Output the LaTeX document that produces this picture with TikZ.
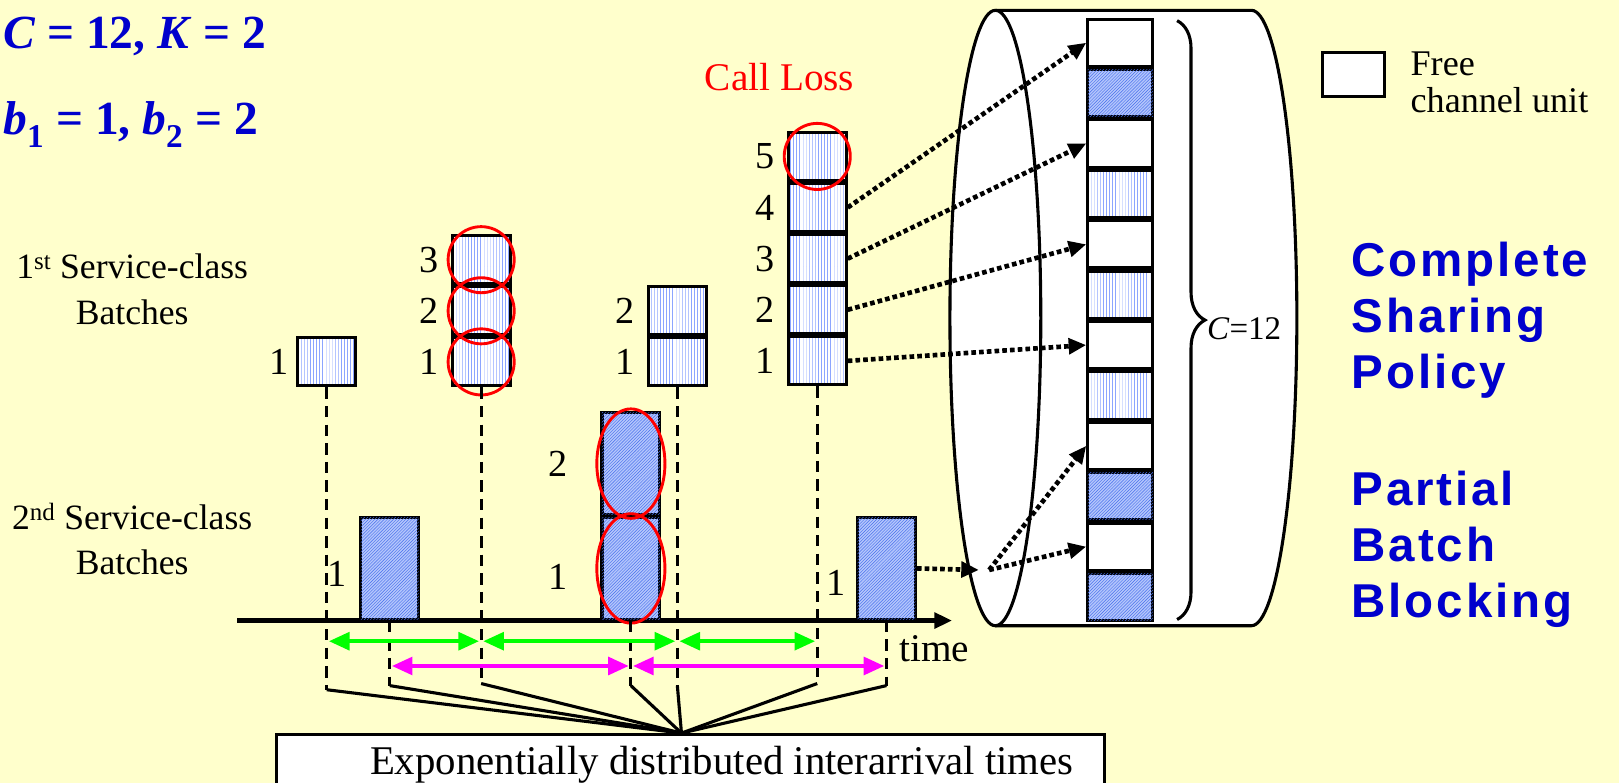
\documentclass[tikz,border=0pt]{standalone}
\usepackage{fontspec}
\setmainfont{Liberation Serif}
\newfontfamily\policyfont[LetterSpace=6]{Liberation Sans}
\usetikzlibrary{arrows.meta,positioning,patterns,decorations.pathreplacing}
\definecolor{slide}{RGB}{255,255,204}
\definecolor{titleblue}{RGB}{0,0,204}
\definecolor{hatchA}{RGB}{140,165,255}
\definecolor{hatchB}{RGB}{70,110,235}
\definecolor{fillB}{RGB}{180,198,252}
\definecolor{gapA}{RGB}{0,255,0}
\definecolor{gapB}{RGB}{255,0,255}
\tikzset{>={Triangle[length=17pt,width=15pt]},
  unit/.style={draw,line width=3,inner sep=0pt},
  cls1/.style={unit,minimum width=56,minimum height=46.5,
    preaction={fill=white},pattern=vertical lines,pattern color=hatchA},
  cls2/.style={unit,minimum width=56,minimum height=98.5,fill=fillB,
    postaction={pattern=north east lines,pattern color=hatchB}},
  freecell/.style={unit,fill=white},
  chan/.style={minimum width=63,minimum height=45.8},
  num/.style={inner sep=0pt,font=\fontsize{37}{40}\selectfont},
  txt/.style={inner sep=0pt,font=\fontsize{36}{44}\selectfont},
  ring/.style={draw=red,line width=2.8},
  arrival/.style={line width=3,dash pattern=on 11pt off 7pt},
  fanline/.style={line width=3},
  gapline/.style={{Triangle[length=20pt,width=17pt]}-{Triangle[length=20pt,width=17pt]},
    line width=4,shorten <=2pt,shorten >=2pt},
  seize/.style={->,line width=4.5,dash pattern=on 4.5pt off 3pt},
  policy/.style={anchor=west,align=left,inner sep=0pt,text=titleblue,
    font=\policyfont\bfseries\fontsize{46}{54.5}\selectfont}}

\begin{document}
\begin{tikzpicture}[x=1pt,y=-1pt]
  \useasboundingbox (0,0) rectangle (1568,758);
  \clip (0,0) rectangle (1568,758);
  \fill[slide] (0,0) rectangle (1568,758);

  % parameters
  \node[anchor=base west,inner sep=0pt,text=titleblue,
    font=\bfseries\fontsize{46}{50}\selectfont] (params) at (3,47)
    {\textit{C} = 12, \textit{K} = 2};
  \node[anchor=base west,inner sep=0pt,text=titleblue,
    font=\bfseries\fontsize{46}{50}\selectfont] (sizes) at (3,130)
    {\textit{b}\textsubscript{1} = 1, \textit{b}\textsubscript{2} = 2};

  % row labels
  \node[txt,align=center,font=\fontsize{34.5}{44}\selectfont] (row1) at (128,280)
    {1\textsuperscript{st} Service-class\\Batches};
  \node[txt,align=center,font=\fontsize{34.5}{44}\selectfont] (row2) at (128,522)
    {2\textsuperscript{nd} Service-class\\Batches};

  % time axis
  \coordinate (t0) at (230,601);
  \coordinate (t1) at (922,601);
  \draw[->,line width=4] (t0) -- (t1);
  \node[txt,font=\fontsize{38}{44}\selectfont] (tlabel) at (905,628) {time};

  % 1st service-class batches
  \node[cls1] (a1) at (316.5,350.5) {};
  \node[cls1] (b1) at (466,350.5) {};
  \node[cls1,above=0pt of b1] (b2) {};
  \node[cls1,above=0pt of b2] (b3) {};
  \node[cls1] (c1) at (656,350.5) {};
  \node[cls1,above=0pt of c1] (c2) {};
  \node[cls1] (d1) at (791.5,349.5) {};
  \node[cls1,above=0pt of d1] (d2) {};
  \node[cls1,above=0pt of d2] (d3) {};
  \node[cls1,above=0pt of d3] (d4) {};
  \node[cls1,above=0pt of d4] (d5) {};
  \node[num,left=7pt of a1] {1};
  \foreach \k in {1,2,3} \node[num,left=12pt of b\k] {\k};
  \foreach \k in {1,2} \node[num,left=12pt of c\k] {\k};
  \foreach \k in {1,...,5} \node[num,left=12pt of d\k] {\k};

  % 2nd service-class batches
  \node[cls2] (e1) at (377.5,550.5) {};
  \node[cls2] (f1) at (611,550.5) {};
  \node[cls2,above=0pt of f1] (f2) {};
  \node[cls2] (g1) at (858.5,550.5) {};
  \node[num,left=12pt of e1,yshift=-5pt] {1};
  \node[num,left=32pt of f1,yshift=-8pt] {1};
  \node[num,left=32pt of f2] {2};
  \node[num,left=10pt of g1,yshift=-14pt] {1};

  % blocked calls
  \foreach \n in {b1,b2,b3,d5} \draw[ring] (\n) circle[radius=32pt];
  \foreach \n in {f1,f2} \draw[ring] (\n) ellipse[x radius=33pt,y radius=53pt];
  \node[txt,text=red,font=\fontsize{38}{44}\selectfont] (calloss) at (755,75) {Call Loss};

  % interarrival times
  \node[draw,fill=white,line width=3,minimum width=802,minimum height=60,
    anchor=north] (iat) at (669,710) {};
  \node[txt,font=\fontsize{39.5}{44}\selectfont] (iattext) at (699,741)
    {Exponentially distributed interarrival times};
  \coordinate (fan) at (660,710);
  \foreach \n/\e in {a1/668,b1/662,c1/664,d1/662,e1/664,f1/664,g1/664} {
    \coordinate (\n-end) at (\n.south |- 0,\e);
    \draw[arrival] (\n.south) -- (\n-end);
    \draw[fanline] (\n-end) -- (fan);
  }
  \draw[gapline,draw=gapA] (a1.south |- 0,621) -- (b1.south |- 0,621);
  \draw[gapline,draw=gapA] (b1.south |- 0,621) -- (c1.south |- 0,621);
  \draw[gapline,draw=gapA] (c1.south |- 0,621) -- (d1.south |- 0,621);
  \draw[gapline,draw=gapB] (e1.south |- 0,645) -- (f1.south |- 0,645);
  \draw[gapline,draw=gapB] (f1.south |- 0,645) -- (g1.south |- 0,645);

  % link
  \fill[white] (964,10) -- (1212,10) arc[start angle=90,end angle=-90,x radius=44pt,y radius=298pt]
    -- (964,606) arc[start angle=270,end angle=90,x radius=44pt,y radius=298pt] -- cycle;
  \draw[line width=3] (964,10) -- (1212,10) arc[start angle=90,end angle=-90,x radius=44pt,y radius=298pt]
    -- (964,606);
  \draw[line width=3] (964,308) ellipse[x radius=44pt,y radius=298pt];
  \foreach \t [count=\i] in {freecell,cls2,freecell,cls1,freecell,cls1,
      freecell,cls1,freecell,cls2,freecell,cls2}
    \node[\t,chan] (ch\i) at (1085,{17+48.8*(\i-0.5)}) {};
  \draw[decorate,decoration={brace,amplitude=27pt},line width=3] (1140,20) -- (1140,600);
  \node[anchor=west,inner sep=0pt,font=\fontsize{32}{36}\selectfont] (cap) at (1169,318)
    {\textit{C}=12};

  % admitted calls seize free units
  \draw[seize] (d1.east) -- (ch7.west);
  \draw[seize] (d2.east) -- (ch5.west);
  \draw[seize] (d3.east) -- (ch3.west);
  \draw[seize] (d4.east) -- (ch1.west);
  \coordinate (split) at (948,552);
  \coordinate (fork) at (958,552);
  \draw[seize] (g1.east) -- (split);
  \draw[seize] (fork) -- (ch9.west);
  \draw[seize] (fork) -- (ch11.west);

  % legend
  \node[freecell,minimum width=60,minimum height=43] (key) at (1311,72) {};
  \node[txt,anchor=west,align=left,font=\fontsize{35}{36}\selectfont] (keytext) at (1366,80)
    {Free\\channel unit};

  % policies
  \node[policy] (csp) at (1309,310) {Complete\\Sharing\\Policy};
  \node[policy] (pbb) at (1309,532) {Partial\\Batch\\Blocking};
\end{tikzpicture}
\end{document}
